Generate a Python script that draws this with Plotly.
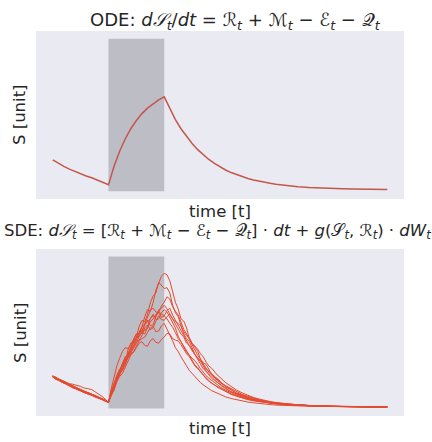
import plotly.graph_objects as go

# ---- data ----
t_ode = list(range(0, 41)) + list(range(42, 61, 2))
s_ode = [2.06, 1.84, 1.64, 1.46, 1.30, 1.15, 1.01, 0.89, 0.72, 0.56, 0.43,
         1.64, 2.63, 3.43, 4.10, 4.64, 5.09, 5.45, 5.75, 5.99, 6.19,
         5.39, 4.70, 4.10, 3.58, 3.13, 2.73, 2.38, 2.09, 1.83, 1.60,
         1.40, 1.23, 1.09, 0.96, 0.84, 0.75, 0.66, 0.59, 0.53, 0.47,
         0.38, 0.31, 0.26, 0.22, 0.19, 0.17, 0.15, 0.14, 0.13, 0.12]

t_sde = [0, 0.5, 1, 1.5, 2, 2.5, 3, 3.5, 4, 4.5, 5, 5.5, 6, 6.5, 7, 7.5, 8, 8.5, 9, 9.5,
         10, 10.5, 11, 11.5, 12, 12.5, 13, 13.5, 14, 14.5, 15, 15.5, 16, 16.5, 17, 17.5, 18, 18.5, 19, 19.5,
         20, 20.5, 21, 21.5, 22, 22.5, 23, 23.5, 24, 24.5, 25, 25.5, 26, 26.5, 27, 27.5, 28, 28.5, 29, 29.5,
         30, 31, 32, 33, 34, 35, 36, 37, 38, 39, 40, 42, 44, 46, 48, 50, 52, 54, 56, 58, 60]

sde_a = [2.12, 2.08, 1.95, 1.80, 1.72, 1.66, 1.58, 1.44, 1.36, 1.33,
         1.25, 1.10, 1.02, 1.01, 0.95, 0.82, 0.76, 0.71, 0.62, 0.53,
         0.40, 1.05, 1.45, 2.05, 2.40, 2.95, 3.35, 3.50, 3.95, 4.55,
         4.90, 4.95, 5.35, 6.05, 6.50, 6.40, 6.95, 7.80, 8.20, 8.70,
         8.90, 8.80, 8.40, 7.60, 7.00, 6.55, 5.90, 5.75, 5.30, 4.60,
         4.20, 4.05, 3.75, 3.25, 3.00, 2.90, 2.60, 2.25, 2.05, 1.98,
         1.80, 1.42, 1.25, 0.98, 0.88, 0.70, 0.62, 0.50, 0.45, 0.37, 0.34,
         0.27, 0.22, 0.18, 0.16, 0.13, 0.12, 0.11, 0.10, 0.10, 0.10]
sde_b = [2.08, 1.95, 1.88, 1.86, 1.75, 1.58, 1.50, 1.49, 1.40, 1.26,
         1.18, 1.16, 1.08, 0.97, 0.90, 0.88, 0.80, 0.66, 0.58, 0.50,
         0.39, 1.10, 1.70, 2.20, 2.60, 2.75, 3.10, 3.85, 4.30, 4.35,
         4.70, 5.40, 5.80, 5.70, 6.20, 6.95, 7.40, 7.60, 8.30, 8.10,
         7.90, 7.95, 7.60, 6.80, 6.30, 6.05, 5.50, 4.90, 4.60, 4.40,
         4.00, 3.55, 3.30, 3.10, 2.80, 2.45, 2.30, 2.15, 1.95, 1.72,
         1.60, 1.35, 1.10, 0.95, 0.80, 0.68, 0.58, 0.49, 0.42, 0.36, 0.32,
         0.26, 0.21, 0.17, 0.15, 0.13, 0.12, 0.11, 0.10, 0.10, 0.10]
sde_c = [2.05, 2.00, 1.90, 1.88, 1.80, 1.70, 1.62, 1.60, 1.55, 1.52,
         1.45, 1.36, 1.30, 1.28, 1.24, 1.12, 1.00, 0.90, 0.75, 0.58,
         0.40, 1.30, 2.10, 2.80, 3.30, 3.75, 4.00, 3.95, 4.20, 4.60,
         4.90, 4.85, 5.10, 5.50, 5.70, 5.85, 6.10, 6.05, 6.50, 6.60,
         6.80, 6.55, 6.20, 5.95, 5.60, 5.15, 4.90, 4.70, 4.30, 4.15,
         3.90, 3.55, 3.30, 3.15, 2.90, 2.60, 2.40, 2.30, 2.10, 1.90,
         1.75, 1.50, 1.30, 1.10, 0.92, 0.80, 0.67, 0.57, 0.50, 0.43, 0.37,
         0.29, 0.23, 0.19, 0.16, 0.14, 0.12, 0.11, 0.10, 0.10, 0.10]
sde_d = [2.15, 2.00, 1.90, 1.76, 1.68, 1.62, 1.52, 1.40, 1.33, 1.28,
         1.20, 1.10, 1.05, 0.95, 0.88, 0.81, 0.72, 0.66, 0.56, 0.48,
         0.38, 0.90, 1.30, 1.85, 2.20, 2.45, 2.90, 3.45, 3.80, 4.05,
         4.50, 4.95, 5.20, 5.10, 5.40, 5.90, 6.20, 5.85, 5.90, 6.30,
         6.50, 6.35, 6.00, 5.55, 5.30, 4.75, 4.40, 4.10, 3.70, 3.50,
         3.20, 2.85, 2.70, 2.40, 2.20, 2.05, 1.85, 1.65, 1.55, 1.40,
         1.30, 1.10, 0.92, 0.80, 0.68, 0.58, 0.50, 0.44, 0.38, 0.34, 0.30,
         0.24, 0.20, 0.17, 0.14, 0.13, 0.12, 0.11, 0.10, 0.10, 0.10]
sde_e = [2.10, 1.94, 1.85, 1.80, 1.70, 1.57, 1.50, 1.45, 1.35, 1.22,
         1.15, 1.10, 1.02, 0.93, 0.90, 0.83, 0.74, 0.64, 0.57, 0.50,
         0.40, 1.00, 1.50, 1.95, 2.30, 2.80, 3.20, 3.30, 3.60, 4.10,
         4.40, 4.50, 4.80, 5.30, 5.50, 5.20, 5.30, 5.75, 6.10, 5.85,
         5.80, 6.05, 6.20, 5.90, 5.70, 5.60, 5.40, 5.05, 4.80, 4.65,
         4.30, 4.10, 3.90, 3.60, 3.40, 3.05, 2.80, 2.65, 2.40, 2.20,
         2.05, 1.70, 1.45, 1.20, 1.02, 0.86, 0.72, 0.62, 0.52, 0.45, 0.39,
         0.30, 0.24, 0.19, 0.16, 0.14, 0.12, 0.11, 0.10, 0.10, 0.10]
sde_f = [2.08, 1.92, 1.86, 1.74, 1.66, 1.60, 1.48, 1.36, 1.30, 1.25,
         1.16, 1.05, 1.00, 0.95, 0.86, 0.76, 0.70, 0.63, 0.55, 0.46,
         0.39, 0.85, 1.20, 1.75, 2.10, 2.30, 2.70, 3.20, 3.50, 3.75,
         4.10, 4.45, 4.60, 4.70, 5.00, 5.30, 5.40, 5.05, 5.10, 5.45,
         5.60, 5.25, 4.80, 4.45, 4.00, 3.75, 3.40, 3.05, 2.80, 2.50,
         2.30, 2.05, 1.90, 1.70, 1.55, 1.45, 1.30, 1.17, 1.08, 0.98,
         0.90, 0.76, 0.65, 0.56, 0.48, 0.42, 0.37, 0.32, 0.28, 0.25, 0.22,
         0.18, 0.16, 0.14, 0.13, 0.12, 0.11, 0.10, 0.10, 0.10, 0.10]
sde_g = [2.12, 2.00, 1.93, 1.82, 1.74, 1.66, 1.55, 1.50, 1.40, 1.30,
         1.22, 1.18, 1.10, 1.00, 0.95, 0.85, 0.78, 0.70, 0.60, 0.52,
         0.40, 0.95, 1.40, 1.90, 2.30, 2.50, 2.90, 3.35, 3.60, 3.70,
         4.00, 4.30, 4.40, 4.15, 4.10, 4.45, 4.60, 4.35, 4.30, 4.55,
         4.70, 4.95, 4.90, 4.60, 4.50, 4.45, 4.20, 3.85, 3.60, 3.40,
         3.10, 2.80, 2.60, 2.45, 2.20, 1.95, 1.80, 1.70, 1.55, 1.40,
         1.30, 1.10, 0.95, 0.82, 0.70, 0.60, 0.52, 0.45, 0.40, 0.35, 0.31,
         0.25, 0.20, 0.17, 0.15, 0.13, 0.12, 0.11, 0.10, 0.10, 0.10]
sde_h = [2.06, 2.00, 1.90, 1.76, 1.66, 1.64, 1.56, 1.42, 1.32, 1.28,
         1.20, 1.09, 1.04, 0.99, 0.92, 0.82, 0.75, 0.68, 0.58, 0.47,
         0.39, 1.15, 1.60, 2.15, 2.50, 3.05, 3.40, 3.55, 3.90, 4.40,
         4.70, 4.75, 5.00, 5.55, 5.80, 5.45, 5.50, 6.05, 6.40, 6.20,
         6.10, 6.45, 6.60, 6.15, 5.80, 5.50, 5.10, 4.85, 4.50, 4.10,
         3.80, 3.55, 3.20, 2.85, 2.60, 2.45, 2.20, 1.98, 1.85, 1.70,
         1.55, 1.30, 1.10, 0.93, 0.80, 0.68, 0.58, 0.50, 0.43, 0.38, 0.33,
         0.27, 0.22, 0.18, 0.15, 0.13, 0.12, 0.11, 0.10, 0.10, 0.10]
sde_i = [2.14, 2.02, 1.96, 1.85, 1.78, 1.70, 1.60, 1.54, 1.42, 1.35,
         1.24, 1.14, 1.08, 1.02, 0.94, 0.84, 0.78, 0.72, 0.62, 0.52,
         0.41, 1.10, 1.55, 2.10, 2.45, 2.75, 3.20, 3.70, 4.05, 4.25,
         4.60, 5.05, 5.40, 5.55, 6.00, 6.45, 6.60, 6.35, 6.30, 6.75,
         7.00, 7.35, 7.20, 6.70, 6.40, 6.15, 5.70, 5.20, 4.90, 4.55,
         4.10, 3.75, 3.50, 3.25, 2.90, 2.60, 2.45, 2.25, 2.00, 1.85,
         1.70, 1.45, 1.22, 1.02, 0.87, 0.74, 0.63, 0.54, 0.46, 0.40, 0.35,
         0.28, 0.22, 0.18, 0.16, 0.14, 0.12, 0.11, 0.10, 0.10, 0.10]
sde_j = [2.09, 1.97, 1.89, 1.78, 1.71, 1.60, 1.53, 1.47, 1.37, 1.24,
         1.19, 1.12, 1.06, 0.95, 0.89, 0.84, 0.77, 0.66, 0.59, 0.51,
         0.40, 0.95, 1.35, 1.90, 2.35, 2.60, 3.05, 3.45, 3.70, 3.95,
         4.30, 4.75, 5.00, 4.90, 5.30, 5.70, 5.90, 6.20, 6.30, 6.00,
         6.10, 5.90, 5.60, 5.35, 5.00, 4.60, 4.40, 4.10, 3.80, 3.50,
         3.30, 3.15, 2.90, 2.60, 2.40, 2.15, 2.00, 1.85, 1.70, 1.52,
         1.42, 1.20, 1.02, 0.87, 0.75, 0.64, 0.55, 0.48, 0.41, 0.36, 0.31,
         0.25, 0.21, 0.17, 0.15, 0.13, 0.12, 0.11, 0.10, 0.10, 0.10]
sde_paths = [sde_a, sde_b, sde_c, sde_d, sde_e, sde_f, sde_g, sde_h, sde_i, sde_j]

shade_t = [10, 20]
shade_s = [0, 10]

title_ode = "ODE: <i>d𝒮<sub>t</sub></i>/<i>dt</i> = ℛ<sub><i>t</i></sub> + ℳ<sub><i>t</i></sub> − ℰ<sub><i>t</i></sub> − 𝒬<sub><i>t</i></sub>"
title_sde = ("SDE: <i>d𝒮<sub>t</sub></i> = [ℛ<sub><i>t</i></sub> + ℳ<sub><i>t</i></sub> − ℰ<sub><i>t</i></sub> − 𝒬<sub><i>t</i></sub>] · <i>dt</i>"
             " + <i>g</i>(𝒮<sub><i>t</i></sub>, ℛ<sub><i>t</i></sub>) · <i>dW<sub>t</sub></i>")
xlabel = "time [t]"
ylabel = "S [unit]"

# ---- figure ----
fig = go.Figure()
fig.add_trace(go.Scatter(x=t_ode, y=s_ode, mode="lines", xaxis="x", yaxis="y",
                         line=dict(color="#c4574c", width=1.5), showlegend=False))
for p in sde_paths:
    fig.add_trace(go.Scatter(x=t_sde, y=p, mode="lines", xaxis="x2", yaxis="y2",
                             line=dict(color="#e44a2e", width=1), showlegend=False))

L, R, T, B = 36, 28, 31, 26
H = 442
ph = H - T - B
top_lo = (H - B - 199) / ph
bot_hi = (H - B - 249) / ph

ax = dict(range=[-3, 63], showgrid=False, zeroline=False, showticklabels=False, ticks="", showline=False)
ay = dict(range=[-0.5, 10.5], showgrid=False, zeroline=False, showticklabels=False, ticks="", showline=False)

fig.update_layout(
    width=432, height=442,
    margin=dict(l=L, r=R, t=T, b=B),
    paper_bgcolor="white", plot_bgcolor="#eaeaf2",
    font=dict(family="DejaVu Sans", color="#262626", size=13),
    xaxis=dict(ax, domain=[0, 1], anchor="y"),
    yaxis=dict(ay, domain=[top_lo, 1], anchor="x"),
    xaxis2=dict(ax, domain=[0, 1], anchor="y2"),
    yaxis2=dict(ay, domain=[0, bot_hi], anchor="x2"),
)

for xr, yr in (("x", "y"), ("x2", "y2")):
    fig.add_shape(type="rect", xref=xr, yref=yr, x0=shade_t[0], x1=shade_t[1],
                  y0=shade_s[0], y1=shade_s[1], fillcolor="#bdbdc5", line=dict(width=0), layer="below")

def px_x(px):
    return (px - L) / (432 - L - R)

def px_y(py):
    return (H - B - py) / ph

ann = [
    (title_ode, px_x(235), px_y(21), 0, 18),
    (title_sde, px_x(217), px_y(231.5), 0, 16.5),
    (xlabel, px_x(220), px_y(211.5), 0, 16.5),
    (xlabel, px_x(220), px_y(429), 0, 16.5),
    (ylabel, px_x(20), px_y(115), -90, 16.5),
    (ylabel, px_x(20), px_y(333), -90, 16.5),
]
for text, x, y, ang, sz in ann:
    fig.add_annotation(text=text, xref="paper", yref="paper", x=x, y=y,
                       xanchor="center", yanchor="middle", showarrow=False,
                       textangle=ang, font=dict(size=sz, color="#262626", weight="normal"))

fig.write_html("out.html", config={"displayModeBar": False},
               post_script="document.body.style.margin='0';")
